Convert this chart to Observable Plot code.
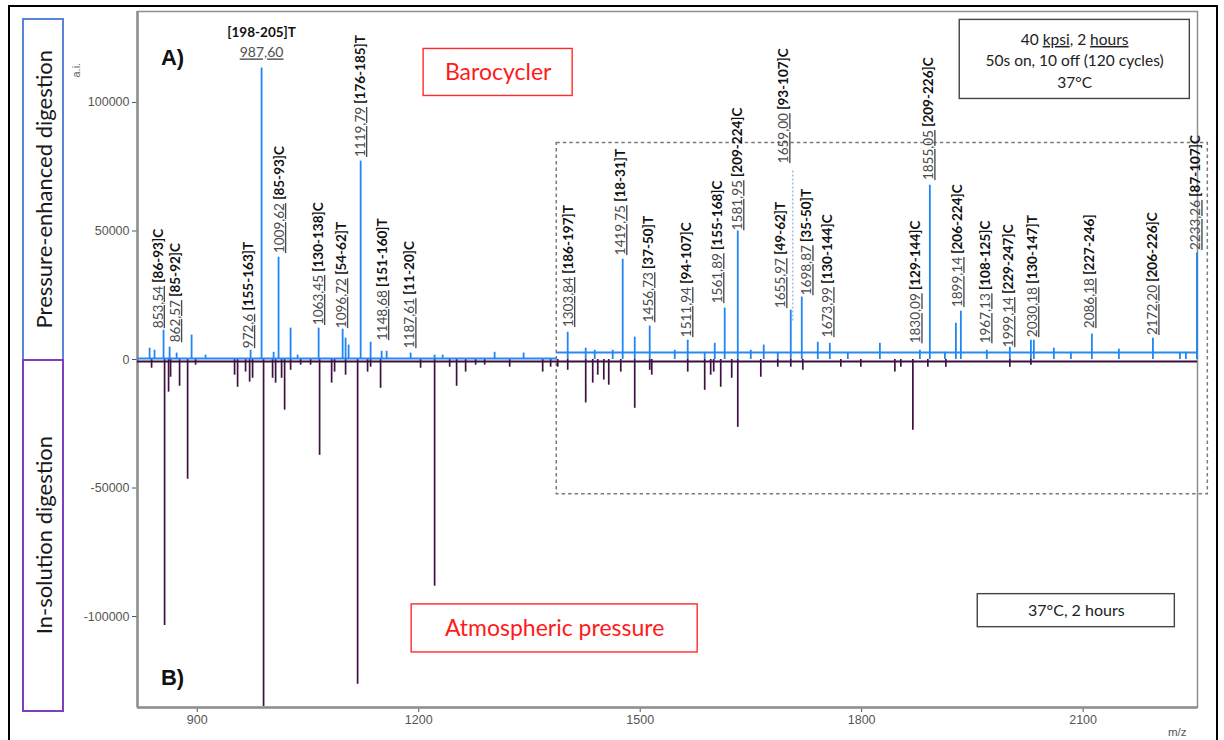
<!DOCTYPE html>
<html>
<head>
<meta charset="utf-8">
<script src="https://cdn.jsdelivr.net/npm/d3@7"></script>
<script src="https://cdn.jsdelivr.net/npm/@observablehq/plot@0.6"></script>
<style>
html,body{margin:0;padding:0;background:#fff;}
#wrap{position:relative;width:1224px;height:740px;overflow:hidden;background:#fff;}
#wrap svg{position:absolute;left:0;top:0;}
.outer{position:absolute;left:8px;top:5px;width:1210px;height:800px;border:2px solid #000;box-sizing:border-box;}
.side{position:absolute;left:22px;width:42px;box-sizing:border-box;display:flex;align-items:center;justify-content:center;font-family:Lato,"Open Sans",sans-serif;font-size:22px;color:#1a1a1a;}
.side span{writing-mode:vertical-rl;transform:rotate(180deg);white-space:nowrap;}
#s1{top:18px;height:343px;border:2px solid #5a84d8;}
#s2{top:359px;height:353px;border:2px solid #7b3fc0;}
</style>
</head>
<body>
<div id="wrap">
  <div class="outer"></div>
  <div class="side" id="s1"><span>Pressure-enhanced digestion</span></div>
  <div class="side" id="s2"><span>In-solution digestion</span></div>
</div>
<script>
// ---- axis ticks ----
const xTicks = [900, 1200, 1500, 1800, 2100];
const yTicks = [-100000, -50000, 0, 50000, 100000];

// ---- pressure-enhanced (Barocycler) spectrum peaks: m/z position on axis, intensity ----
const blueMz = [835.4, 842.1, 854.3, 862.5, 872.0, 892.3, 911.2, 972.2, 987.1, 1003.4, 1010.1, 1026.4, 1035.9, 1064.4, 1096.9, 1100.9, 1105.0, 1121.3, 1134.8, 1149.7, 1156.5, 1189.0, 1221.5, 1232.4, 1302.8, 1342.1, 1401.8, 1426.2, 1438.4, 1462.8, 1476.3, 1492.6, 1512.9, 1546.8, 1564.4, 1587.4, 1601.0, 1614.5, 1632.2, 1649.8, 1667.4, 1686.4, 1704.0, 1718.9, 1740.6, 1756.9, 1781.3, 1824.7, 1878.9, 1892.4, 1912.8, 1927.7, 1934.4, 1969.6, 2000.8, 2029.3, 2033.3, 2060.4, 2083.5, 2111.9, 2148.5, 2194.6, 2231.2, 2239.3, 2254.2];
const blueInt = [4400, 3600, 11400, 4800, 2500, 9500, 1700, 3600, 113400, 2800, 39800, 12200, 1700, 12200, 11800, 8300, 5600, 77200, 6700, 3200, 3200, 2500, 1700, 1700, 2800, 2500, 10600, 4400, 3600, 3600, 39000, 8700, 13000, 3600, 7500, 2800, 6300, 20000, 50000, 3600, 5600, 2800, 19200, 24300, 6700, 6300, 2800, 6300, 3600, 67800, 2800, 14100, 18800, 3600, 4800, 7500, 7500, 4400, 2800, 9900, 4000, 8300, 2500, 2800, 41400];
const blueBaseFrom = [819, 1387];
const blueBaseTo = [1387, 2255];
const blueBaseLevel = [400, 2700];

// ---- in-solution (atmospheric) spectrum peaks ----
const purpleMz = [838.1, 855.7, 861.1, 863.8, 876.0, 886.9, 897.7, 950.5, 954.6, 965.4, 970.9, 974.9, 989.8, 1002.0, 1006.1, 1014.2, 1018.3, 1026.4, 1040.0, 1053.5, 1065.7, 1082.0, 1086.0, 1100.9, 1117.2, 1130.7, 1134.8, 1148.3, 1202.5, 1221.5, 1241.9, 1251.3, 1263.5, 1277.1, 1289.3, 1323.2, 1367.9, 1378.7, 1388.3, 1401.8, 1426.2, 1435.7, 1442.5, 1450.7, 1457.4, 1473.7, 1492.6, 1512.9, 1515.7, 1564.4, 1587.4, 1595.5, 1599.6, 1609.1, 1624.0, 1632.2, 1663.4, 1686.4, 1704.0, 1720.3, 1771.8, 1798.9, 1845.0, 1853.1, 1869.4, 1889.7, 1914.1, 2000.8, 2029.3];
const purpleInt = [-3400, -103500, -12700, -6900, -10400, -46600, -2200, -6100, -10800, -4900, -8800, -7300, -135000, -7300, -9200, -7300, -19700, -4200, -2200, -2200, -37300, -9200, -4900, -6100, -126400, -4900, -3000, -11200, -3400, -88200, -3000, -10400, -4900, -2200, -2200, -3000, -4900, -3000, -3000, -4200, -16900, -9200, -6100, -8000, -10000, -4900, -19000, -4200, -6100, -4900, -12000, -6100, -4900, -10800, -7300, -26400, -6900, -3000, -3000, -4200, -3000, -3000, -4900, -3000, -27500, -3000, -3000, -3000, -2200];
const purpleBaseLevel = -800;

// ---- peak annotations (vertical labels) ----
const labelNum = ["853,54","862,57","972,6","1009,62","1063,45","1096,72","1119,79","1148,68","1187,61","1303,84","1419,75","1456,73","1511,94","1561,89","1581,95","1655,97","1659,00","1698,87","1673,99","1830,09","1855,05","1899,14","1967,13","1999,14","2030,18","2086,18","2172,20","2233,26"];
const labelFrag = ["[86-93]C","[85-92]C","[155-163]T","[85-93]C","[130-138]C","[54-62]T","[176-185]T","[151-160]T","[11-20]C","[186-197]T","[18-31]T","[37-50]T","[94-107]C","[155-168]C","[209-224]C","[49-62]T","[93-107]C","[35-50]T","[130-144]C","[129-144]C","[209-226]C","[206-224]C","[108-125]C","[229-247]C","[130-147]T","[227-246]","[206-226]C","[87-107]C"];
const labelMz = [847.2, 870.6, 969.5, 1011.5, 1064.4, 1095.5, 1121.3, 1151.1, 1188.0, 1403.1, 1473.7, 1511.6, 1563.1, 1605.1, 1632.2, 1690.5, 1694.6, 1725.9, 1754.3, 1873.6, 1891.1, 1930.4, 1968.3, 1999.3, 2031.8, 2109.2, 2194.6, 2252.9];
const labelBase = [12200, 6700, 4400, 41400, 13400, 12200, 78800, 7500, 4400, 12600, 40600, 14500, 8700, 21900, 50300, 20000, 76400, 25000, 8700, 6300, 69800, 20400, 6300, 4800, 8700, 12200, 9500, 42600];

// top peak (horizontal label)
const topNum = ["987,60"];
const topFrag = ["[198-205]T"];
const topMz = [987.1];

// dotted leader for 1659,00
const leaderMz = [1706.7];
const leaderFrom = [15000];
const leaderTo = [73700];

// ---- tables built for Plot ----
const blue = blueMz.map((mz, i) => ({mz, v: blueInt[i]}));
const purple = purpleMz.map((mz, i) => ({mz, v: purpleInt[i]}));
const blueBase = blueBaseFrom.map((a, i) => ({a, b: blueBaseTo[i], v: blueBaseLevel[i]}));
const labels = labelNum.map((n, i) => ({mz: labelMz[i], v: labelBase[i], t: n + " " + labelFrag[i]}));
const leaders = leaderMz.map((mz, i) => ({mz, a: leaderFrom[i], b: leaderTo[i]}));

const FONT = "Lato, 'Open Sans', sans-serif";
const AX = "#8f8f8f";

const chart = Plot.plot({
  width: 1224,
  height: 740,
  marginLeft: 137,
  marginRight: 27,
  marginTop: 11,
  marginBottom: 33,
  style: {fontFamily: "'Liberation Sans', Arial, sans-serif", fontSize: "12.5px", color: "#555", background: "transparent", overflow: "visible"},
  x: {domain: [819, 2255], ticks: xTicks, tickSize: 5, tickPadding: 3, tickFormat: d => String(d), label: null},
  y: {domain: [-135400, 135400], ticks: yTicks, tickSize: 5, tickPadding: 3, tickFormat: d => String(d), label: null},
  marks: [
    Plot.frame({stroke: AX, strokeWidth: 1.5}),
    Plot.ruleX([819], {stroke: AX, strokeWidth: 2.5}),
    Plot.ruleY([-135400], {stroke: AX, strokeWidth: 2.5}),
    // dashed zoom box
    Plot.rect([{x1: 1387, x2: 2269, y1: -52420, y2: 84230}], {x1: "x1", x2: "x2", y1: "y1", y2: "y2", fill: "none", stroke: "#7a7a7a", strokeWidth: 1.5, strokeDasharray: "3.5,3"}),
    // in-solution spectrum
    Plot.ruleY([purpleBaseLevel], {x1: 819, x2: 2255, stroke: "#3c0e40", strokeWidth: 2}),
    Plot.ruleX(purple, {x: "mz", y1: 0, y2: "v", stroke: "#3f1143", strokeWidth: 1.7}),
    // pressure-enhanced spectrum
    Plot.ruleY(blueBase, {x1: "a", x2: "b", y: "v", stroke: "#2a8af2", strokeWidth: 2}),
    Plot.ruleX(blue, {x: "mz", y1: 0, y2: "v", stroke: "#1f86f2", strokeWidth: 1.8}),
    Plot.ruleX(leaders, {x: "mz", y1: "a", y2: "b", stroke: "#86aee8", strokeWidth: 1.2, strokeDasharray: "2,2"}),
    // vertical peak labels
    Plot.text(labels, {x: "mz", y: "v", text: "t", rotate: -90, textAnchor: "start", lineAnchor: "middle", fontSize: 13.5, fontFamily: FONT, fill: "#111", ariaDescription: "peak-labels"}),
    // horizontal label for the tallest peak
    Plot.text(topFrag, {x: () => topMz[0], y: () => 127060, text: d => d, fontSize: 13.5, fontWeight: "bold", fontFamily: FONT, fill: "#111"}),
    Plot.text(topNum, {x: () => topMz[0], y: () => 119270, text: d => d, fontSize: 14, fontFamily: FONT, fill: "#505050", ariaDescription: "top-num"}),
    // annotation boxes
    Plot.rect([
      {x1: 1206.6, x2: 1408.5, y1: 102530, y2: 120830, s: "#ff2a2a"},
      {x1: 1190.4, x2: 1577.9, y1: -113980, y2: -95290, s: "#ff2a2a"},
      {x1: 1932.9, x2: 2244.6, y1: 101370, y2: 132130, s: "#444"},
      {x1: 1957.3, x2: 2224.3, y1: -104150, y2: -91300, s: "#444"}
    ], {x1: "x1", x2: "x2", y1: "y1", y2: "y2", fill: "white", stroke: "s", strokeWidth: 1.4}),
    Plot.text([
      {x: 1307.6, y: 111680, t: "Barocycler"},
      {x: 1384.1, y: -104630, t: "Atmospheric pressure"}
    ], {x: "x", y: "y", text: "t", fontSize: 23, fontFamily: FONT, fill: "#ff1a1a"}),
    Plot.text([
      {x: 2088.5, y: 116740, t: "40 kpsi, 2 hours\n50s on, 10 off (120 cycles)\n37°C"}
    ], {x: "x", y: "y", text: "t", fontSize: 15.5, lineHeight: 1.38, fontFamily: FONT, fill: "#222", ariaDescription: "info-text"}),
    Plot.text([
      {x: 2090.8, y: -97820, t: "37°C, 2 hours"}
    ], {x: "x", y: "y", text: "t", fontSize: 16, fontFamily: FONT, fill: "#222"}),
    // panel letters
    Plot.text([
      {x: 866.5, y: 117330, t: "A)"},
      {x: 866.5, y: -123710, t: "B)"}
    ], {x: "x", y: "y", text: "t", fontSize: 22, fontWeight: "bold", fontFamily: "'Liberation Sans', Arial, sans-serif", fill: "#111"}),
    // axis titles
    Plot.text(["a.i."], {frameAnchor: "top-left", dx: -65, dy: 66, rotate: -90, fontSize: 11, fill: "#666"}),
    Plot.text(["m/z"], {frameAnchor: "bottom-right", dx: -11, dy: 28, fontSize: 11.5, fill: "#555"})
  ]
});

document.getElementById("wrap").appendChild(chart);

const sel = (name) => d3.select(chart).selectAll(`g[aria-description="${name}"] text`);

// style peak labels: underlined gray m/z value + bold black fragment
sel("peak-labels").each(function () {
  const t = d3.select(this);
  const s = t.text();
  const k = s.indexOf(" ");
  t.text(null);
  t.append("tspan").attr("fill", "#4a4a4a").style("text-decoration", "underline").text(s.slice(0, k));
  t.append("tspan").attr("font-weight", "bold").attr("fill", "#111").text(" " + s.slice(k + 1));
});
sel("top-num").style("text-decoration", "underline");
// spell-check style squiggles on the first info line
sel("info-text").each(function () {
  const first = d3.select(this).select("tspan");
  if (first.empty()) return;
  first.text(null);
  first.append("tspan").text("40 ");
  first.append("tspan").style("text-decoration", "underline wavy #e03030").text("kpsi");
  first.append("tspan").text(", 2 ");
  first.append("tspan").style("text-decoration", "underline wavy #e03030").text("hours");
});
</script>
</body>
</html>
